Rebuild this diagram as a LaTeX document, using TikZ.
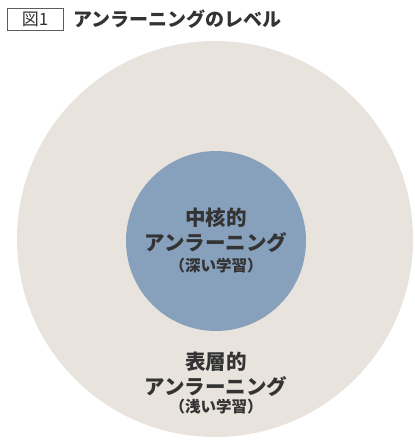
\documentclass[tikz,border=0pt]{standalone}
\usepackage{fontspec}
\setmainfont{Noto Sans CJK JP}
\definecolor{outerbg}{HTML}{E8E3DC}
\definecolor{innerbg}{HTML}{87A0BC}
\definecolor{txt}{HTML}{333333}
\begin{document}
\begin{tikzpicture}[x=1pt,y=-1pt,
  mainlbl/.style={font=\fontsize{20.5}{20.5}\selectfont\bfseries, text=txt, inner sep=0pt},
  sublbl/.style={font=\fontsize{15.5}{15.5}\selectfont\bfseries, text=txt, inner sep=0pt},
  tagbox/.style={draw=txt!80, line width=0.8pt, minimum width=56pt, minimum height=22pt, inner sep=0pt, font=\fontsize{17}{17}\selectfont, text=txt},
  titlelbl/.style={font=\fontsize{19}{19}\selectfont\bfseries, text=txt, inner sep=0pt, anchor=west}]
\useasboundingbox (0,0) rectangle (414,446);
\clip (0,0) rectangle (414,446);
\fill[outerbg] (215,239) circle (198);
\fill[innerbg] (216,241) circle (90);
\node[tagbox] (tag) at (35,19) {図1};
\node[titlelbl] (title) at (73,19) {アンラーニングのレベル};
\node[mainlbl] (in1) at (216,218) {中核的};
\node[mainlbl] (in2) at (216,243) {アンラーニング};
\node[sublbl] (in3) at (216,266) {（深い学習）};
\node[mainlbl] (out1) at (216,362) {表層的};
\node[mainlbl] (out2) at (216,387) {アンラーニング};
\node[sublbl] (out3) at (216,407) {（浅い学習）};
\end{tikzpicture}
\end{document}
